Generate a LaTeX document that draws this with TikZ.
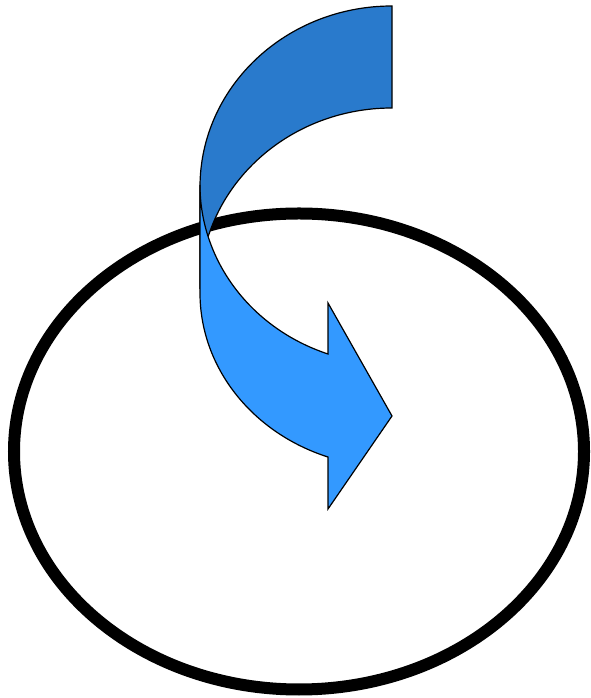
\documentclass[tikz,border=0pt]{standalone}
\definecolor{blueFront}{HTML}{3399FF}
\definecolor{blueBack}{HTML}{297ACC}

\begin{document}
\begin{tikzpicture}[
  x=1pt, y=1pt,
  ring/.style={draw=black, line width=12pt},
  band/.style={fill=#1, draw=black, line width=1.2pt, line join=miter}
]
\useasboundingbox (0,0) rectangle (591,698);

%% ═══ RING ═══
\draw[ring] (299,246.5) ellipse[x radius=285pt, y radius=238pt];

%% ═══ ARROW, BACK FACE ═══
\draw[band=blueBack] (392,692)
  arc[start angle=90, end angle=180, x radius=192pt, y radius=181pt]
  -- (200,409)
  arc[start angle=180, end angle=90, x radius=192pt, y radius=181pt]
  -- cycle;

%% ═══ ARROW, FRONT FACE ═══
\draw[band=blueFront] (200,513) -- (200,405)
  arc[start angle=180, end angle=250.53, x radius=192pt, y radius=174pt]
  -- (328,189) -- (392,282) -- (328,395) -- (328,344)
  arc[start angle=250.53, end angle=180, x radius=192pt, y radius=179.3pt]
  -- cycle;

\end{tikzpicture}
\end{document}
